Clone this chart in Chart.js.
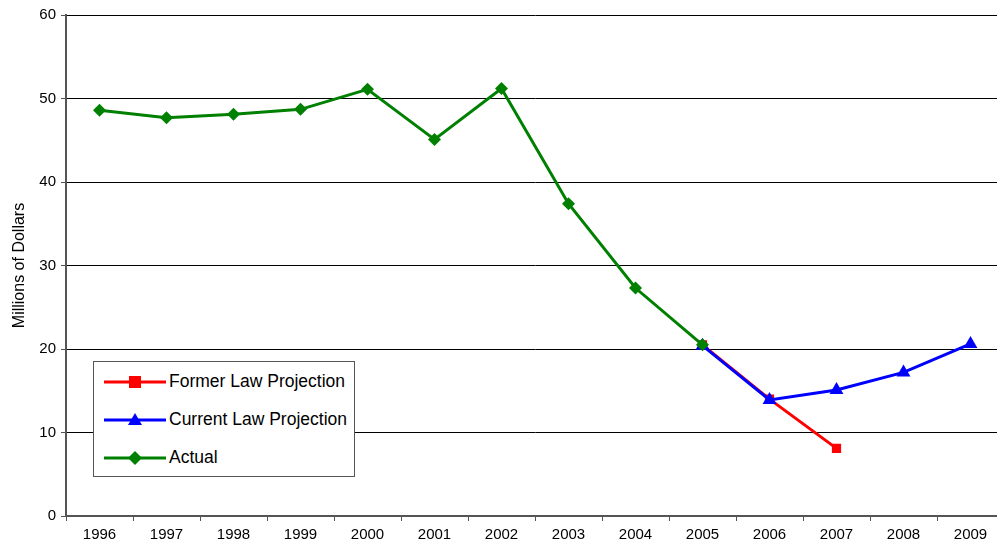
<!DOCTYPE html>
<html>
<head>
<meta charset="utf-8">
<script src="https://cdn.jsdelivr.net/npm/chart.js@4"></script>
<style>
  html, body { margin: 0; padding: 0; background: #fff; overflow: hidden; }
  #wrap { position: relative; width: 997px; height: 548px; overflow: hidden; }
  #legend {
    position: absolute; left: 93px; top: 361px; width: 262px; height: 116px;
    border: 1px solid #555; background: #fff; box-sizing: border-box;
    font-family: 'Liberation Sans', Arial, sans-serif; font-size: 17.5px; color: #000;
    padding-top: 8px;
  }
  #legend div { height: 38px; line-height: 22px; display: flex; align-items: flex-start; }
  #legend svg { margin-left: 10px; margin-right: 3px; margin-top: 1px; }
</style>
</head>
<body>
<div id="wrap">
  <canvas id="grafico" width="1012" height="548"></canvas>
  <div id="legend"></div>
</div>
<script>
const years = ['1996', '1997', '1998', '1999', '2000', '2001', '2002', '2003', '2004', '2005', '2006', '2007', '2008', '2009'];
const formerLaw = [null, null, null, null, null, null, null, null, null, 20.5, 14.0, 8.1, null, null];
const currentLaw = [null, null, null, null, null, null, null, null, null, 20.4, 13.9, 15.1, 17.2, 20.6];
const actual = [48.6, 47.7, 48.1, 48.7, 51.1, 45.1, 51.2, 37.4, 27.3, 20.5, null, null, null, null];
const yTicks = [0, 10, 20, 30, 40, 50, 60];

const fuente = "'Liberation Sans', Arial, sans-serif";

const series = [
  { label: 'Former Law Projection', data: formerLaw, color: '#ff0000', style: 'rect', radius: 6.5, order: 2 },
  { label: 'Current Law Projection', data: currentLaw, color: '#0000ff', style: 'triangle', radius: 8, order: 1 },
  { label: 'Actual', data: actual, color: '#008000', style: 'rectRot', radius: 6.5, order: 0 },
];

const grafico = new Chart(document.getElementById('grafico'), {
  type: 'line',
  data: {
    labels: years,
    datasets: series.map(s => ({
      label: s.label,
      data: s.data,
      borderColor: s.color,
      backgroundColor: s.color,
      pointStyle: s.style,
      pointRadius: s.radius,
      pointBorderWidth: 0,
      borderWidth: 3,
      tension: 0,
      fill: false,
      spanGaps: false,
      order: s.order,
    })),
  },
  options: {
    responsive: false,
    animation: false,
    layout: { padding: { top: 15, right: 0, left: 0, bottom: 0 } },
    plugins: {
      legend: { display: false },
      tooltip: { enabled: false },
    },
    scales: {
      x: {
        offset: true,
        grid: {
          offset: true,
          drawOnChartArea: false,
          drawTicks: true,
          tickLength: 5,
          tickColor: '#555',
        },
        border: { color: '#555', width: 2 },
        ticks: {
          color: '#000',
          font: { family: fuente, size: 15 },
          padding: 5,
          maxRotation: 0,
          autoSkip: false,
        },
        afterFit: axis => { axis.height = 32; },
      },
      y: {
        min: 0,
        max: 60,
        afterBuildTicks: axis => { axis.ticks = yTicks.map(v => ({ value: v })); },
        grid: {
          color: '#000',
          lineWidth: 1,
          tickLength: 5,
          tickColor: '#555',
        },
        border: { color: '#555', width: 2 },
        ticks: {
          color: '#000',
          font: { family: fuente, size: 15 },
          padding: 5,
        },
        title: {
          display: true,
          text: 'Millions of Dollars',
          color: '#000',
          font: { family: fuente, size: 16 },
          padding: { top: 10, bottom: 6 },
        },
        afterFit: axis => { axis.width = 66; },
      },
    },
  },
});

// leyenda dentro del area del grafico
const leyenda = document.getElementById('legend');
series.forEach(s => {
  let marca = '';
  if (s.style === 'rect') marca = '<rect x="25" y="5" width="12" height="12" fill="' + s.color + '"/>';
  if (s.style === 'triangle') marca = '<polygon points="31,4 38,16 24,16" fill="' + s.color + '"/>';
  if (s.style === 'rectRot') marca = '<polygon points="31,4 38,11 31,18 24,11" fill="' + s.color + '"/>';
  const fila = document.createElement('div');
  fila.innerHTML = '<svg width="62" height="22"><line x1="0" y1="11" x2="62" y2="11" stroke="' + s.color + '" stroke-width="3"/>' + marca + '</svg><span>' + s.label + '</span>';
  leyenda.appendChild(fila);
});
</script>
</body>
</html>
